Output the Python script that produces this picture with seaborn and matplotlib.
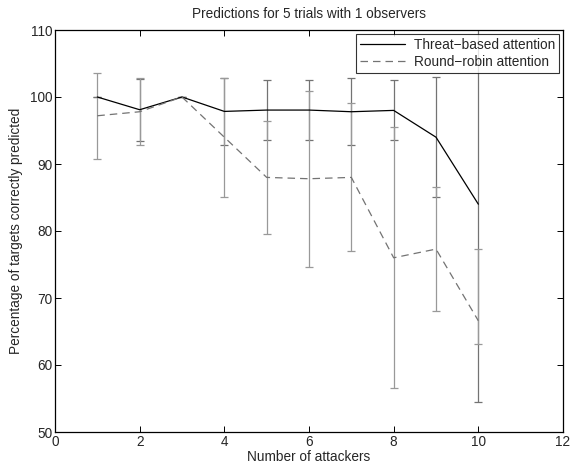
#!/usr/bin/env python3
# Threat-based vs round-robin attention, 5 trials, 1 observer

import numpy as np
import pandas as pd
import matplotlib
matplotlib.use('Agg')
import matplotlib.pyplot as plt
from matplotlib.lines import Line2D
import seaborn as sns

# values
attackers = [1, 2, 3, 4, 5, 6, 7, 8, 9, 10]
threat_mean = [100.0, 98.1, 100.0, 97.85, 98.05, 98.05, 97.8, 98.0, 94.0, 84.0]
threat_low = [100.0, 93.5, 100.0, 92.8, 93.6, 93.6, 92.8, 93.6, 85.1, 54.5]
threat_high = [100.0, 102.7, 100.0, 102.9, 102.5, 102.5, 102.9, 102.5, 103.0, 113.5]
robin_mean = [97.2, 97.8, 100.0, 94.0, 88.0, 87.8, 88.0, 76.0, 77.3, 66.6]
robin_low = [90.8, 92.9, 100.0, 85.1, 79.6, 74.7, 77.0, 56.5, 68.0, 63.2]
robin_high = [103.6, 102.9, 100.0, 102.9, 96.4, 100.85, 99.1, 95.5, 86.6, 77.3]

x_ticks = [0, 2, 4, 6, 8, 10, 12]
y_ticks = [50, 60, 70, 80, 90, 100, 110]

df = pd.DataFrame({
    'Number of attackers': attackers * 2,
    'Percentage': threat_mean + robin_mean,
    'Method': ['Threat\u2212based attention'] * 10 + ['Round\u2212robin attention'] * 10,
})

sns.set_style("ticks")
plt.rcParams['font.family'] = ['Liberation Sans', 'DejaVu Sans']
plt.rcParams['xtick.direction'] = 'in'
plt.rcParams['ytick.direction'] = 'in'

fig = plt.figure(figsize=(5.7, 4.7), dpi=100)
ax = fig.add_axes([55 / 570, 38 / 470, 508 / 570, 402 / 470])

# error bars (drawn under the lines)
t_err = [np.array(threat_mean) - np.array(threat_low),
         np.array(threat_high) - np.array(threat_mean)]
r_err = [np.array(robin_mean) - np.array(robin_low),
         np.array(robin_high) - np.array(robin_mean)]
ax.errorbar(attackers, threat_mean, yerr=t_err, fmt='none', ecolor='0.45',
            elinewidth=0.9, capsize=3.2, capthick=0.9, zorder=1)
ax.errorbar(attackers, robin_mean, yerr=r_err, fmt='none', ecolor='0.6',
            elinewidth=0.9, capsize=3.2, capthick=0.9, zorder=1)

sns.lineplot(data=df, x='Number of attackers', y='Percentage', hue='Method',
             style='Method', palette=['black', '0.45'],
             dashes=[(None, None), (6, 4)], linewidth=0.9, ax=ax, zorder=2,
             legend=False)

# legend built by hand to keep the MATLAB look
handles = [Line2D([], [], color='black', lw=0.9),
           Line2D([], [], color='0.45', lw=0.9, dashes=(6, 4))]
leg = ax.legend(handles, ['Threat\u2212based attention', 'Round\u2212robin attention'],
                loc='upper right', fontsize=9.8, frameon=True, fancybox=False,
                borderpad=0.3, labelspacing=0.2, handlelength=3.3,
                handletextpad=0.6, borderaxespad=0.3)
leg.get_frame().set_edgecolor('black')
leg.get_frame().set_linewidth(0.8)

ax.set_xlim(0, 12)
ax.set_ylim(50, 110)
ax.set_xticks(x_ticks)
ax.set_yticks(y_ticks)
ax.tick_params(labelsize=9.8, length=4, width=0.7, top=True, right=True,
               color='black', pad=2)
for s in ax.spines.values():
    s.set_linewidth(0.9)
    s.set_color('black')

ax.set_xlabel('Number of attackers', fontsize=9.8, labelpad=1)
ax.set_ylabel('Percentage of targets correctly predicted', fontsize=9.8, labelpad=5)
ax.set_title('Predictions for 5 trials with 1 observers', fontsize=9.8, pad=9)

plt.savefig('out.png', dpi=100)
